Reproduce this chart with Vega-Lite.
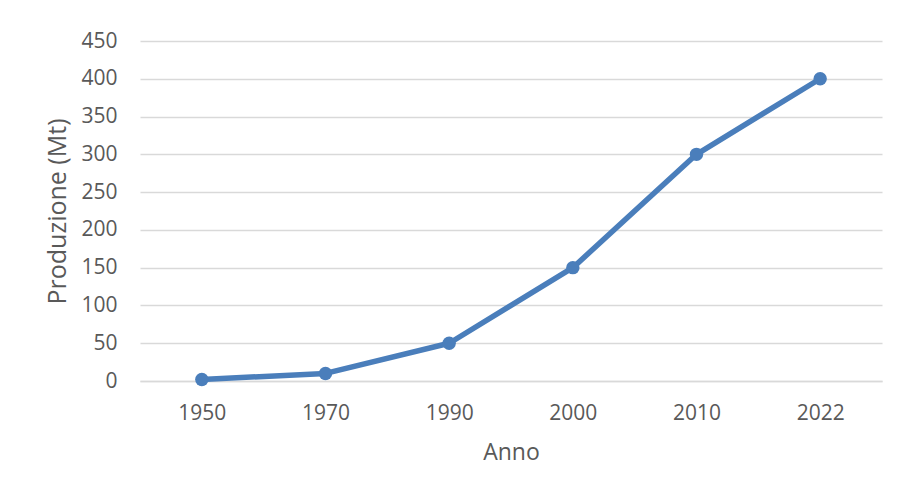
{
  "$schema": "https://vega.github.io/schema/vega-lite/v6.json",
  "width": 742,
  "height": 340,
  "autosize": {"type": "none"},
  "padding": {"left": 140, "top": 41, "right": 15, "bottom": 113},
  "background": "white",
  "config": {
    "view": {"stroke": null},
    "font": "Open Sans",
    "axis": {
      "labelFont": "Open Sans",
      "titleFont": "Open Sans",
      "labelColor": "#595959",
      "titleColor": "#595959",
      "labelFontSize": 21,
      "titleFontSize": 23,
      "titleFontWeight": "normal",
      "gridColor": "#d9d9d9",
      "gridWidth": 1.5,
      "domainColor": "#d9d9d9",
      "domainWidth": 1.5,
      "ticks": false
    }
  },
  "data": {
    "values": [
      {"Anno": "1950", "Produzione": 2},
      {"Anno": "1970", "Produzione": 10},
      {"Anno": "1990", "Produzione": 50},
      {"Anno": "2000", "Produzione": 150},
      {"Anno": "2010", "Produzione": 300},
      {"Anno": "2022", "Produzione": 400}
    ]
  },
  "encoding": {
    "x": {
      "field": "Anno",
      "type": "ordinal",
      "sort": null,
      "scale": {"paddingInner": 0, "paddingOuter": 0.5},
      "axis": {"labelAngle": 0, "labelPadding": 21, "title": "Anno", "titlePadding": 18, "grid": false}
    },
    "y": {
      "field": "Produzione",
      "type": "quantitative",
      "scale": {"domain": [0, 450], "nice": false},
      "axis": {"values": [0, 50, 100, 150, 200, 250, 300, 350, 400, 450], "labelPadding": 23, "title": "Produzione (Mt)", "titlePadding": 10, "titleFontSize": 25, "domain": false}
    }
  },
  "layer": [
    {"mark": {"type": "line", "color": "#4a7ebb", "strokeWidth": 5.5, "strokeJoin": "round", "strokeCap": "round"}},
    {"mark": {"type": "point", "filled": true, "color": "#4a7ebb", "opacity": 1, "size": 180}}
  ]
}
